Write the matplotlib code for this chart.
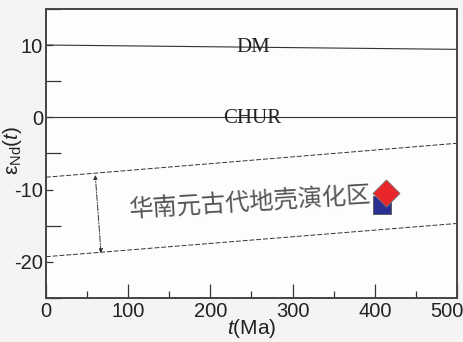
import matplotlib
matplotlib.use("Agg")
import matplotlib.pyplot as plt
from matplotlib.ticker import MultipleLocator, FixedFormatter

plt.rcParams['font.family'] = ['Liberation Sans', 'Noto Sans CJK SC', 'DejaVu Sans']
plt.rcParams['mathtext.fontset'] = 'custom'
plt.rcParams['mathtext.rm'] = 'Liberation Sans'
plt.rcParams['mathtext.it'] = 'Liberation Sans:italic'
plt.rcParams['axes.unicode_minus'] = False

# reference evolution lines (t in Ma, eNd)
t_ends = [0, 500]
dm_line = [10.0, 9.4]
chur_line = [0.0, 0.0]
sc_upper = [-8.3, -3.6]
sc_lower = [-19.3, -14.7]

# span arrow of the evolution field
arrow_t = [60, 67]
arrow_e = [-8.0, -18.8]

# samples
sq_t, sq_e = [409], [-12.1]
dia_t, dia_e = [414], [-10.5]

x_ticks = [0, 100, 200, 300, 400, 500]
x_labels = ['0', '100', '200', '300', '400', '']
field_label = "华南元古代地壳演化区"

fig = plt.figure(figsize=(4.64, 3.42), dpi=100, facecolor='#f4f4f4')
ax = fig.add_axes([0.099, 0.129, 0.886, 0.845])
ax.set_facecolor('#fdfdfd')

lc = '#333333'
ax.plot(t_ends, dm_line, color=lc, lw=0.8)
ax.plot(t_ends, chur_line, color=lc, lw=0.8)
ax.plot(t_ends, sc_upper, color=lc, lw=0.7, ls=(0, (5, 2)))
ax.plot(t_ends, sc_lower, color=lc, lw=0.7, ls=(0, (5, 2)))

ax.annotate('', xy=(arrow_t[0], arrow_e[0]), xytext=(arrow_t[1], arrow_e[1]),
            arrowprops=dict(arrowstyle='<|-|>', color=lc, lw=0.7, ls='-.',
                            mutation_scale=6, shrinkA=0, shrinkB=0))

ax.scatter(sq_t, sq_e, marker='s', s=150, color='#2b2f8f', edgecolor='#555555',
           linewidth=0.6, zorder=3)
ax.scatter(dia_t, dia_e, marker='D', s=190, color='#e8262b', edgecolor='#777777',
           linewidth=0.6, zorder=4)

ax.text(252, 9.6, 'DM', family='Liberation Serif', fontsize=15, color='#222222',
        ha='center', va='center')
ax.text(251, -0.2, 'CHUR', family='Liberation Serif', fontsize=15, color='#222222',
        ha='center', va='center')
ax.text(249, -11.9, field_label, family=['Noto Sans CJK SC', 'DejaVu Sans'],
        fontsize=17.5, color='#555555', ha='center', va='center', rotation=3.5,
        weight='light')

ax.set_xlim(0, 500)
ax.set_ylim(-25, 15)
ax.set_xticks(x_ticks)
ax.xaxis.set_major_formatter(FixedFormatter(x_labels))
ax.xaxis.set_minor_locator(MultipleLocator(50))
ax.yaxis.set_major_locator(MultipleLocator(10))
ax.yaxis.set_minor_locator(MultipleLocator(5))
ax.tick_params(which='both', direction='in', colors=lc, labelcolor='#222222',
               labelsize=14.5, width=0.9)
ax.tick_params(axis='x', which='major', length=10, pad=3)
ax.tick_params(axis='x', which='minor', length=5)
ax.tick_params(axis='y', which='major', length=5, pad=2)
ax.tick_params(axis='y', which='minor', length=11)
ax.tick_params(top=False, right=False, which='both')

# last x label sits flush with the figure edge
ax.annotate('500', xy=(500, 0), xycoords=('data', 'axes fraction'),
            xytext=(5, -3), textcoords='offset points', ha='right', va='top',
            fontsize=14.5, color='#222222')

for s in ax.spines.values():
    s.set_color('#444444')
    s.set_linewidth(1.4)

ax.set_xlabel(r'$t$(Ma)', fontsize=15, labelpad=-3, color='#222222')
ax.set_ylabel(r'$\mathrm{\varepsilon}_{\mathrm{Nd}}(t)$', fontsize=15, color='#222222')
ax.yaxis.set_label_coords(-0.053, 0.51)

fig.savefig('out.png', dpi=100, facecolor=fig.get_facecolor())
